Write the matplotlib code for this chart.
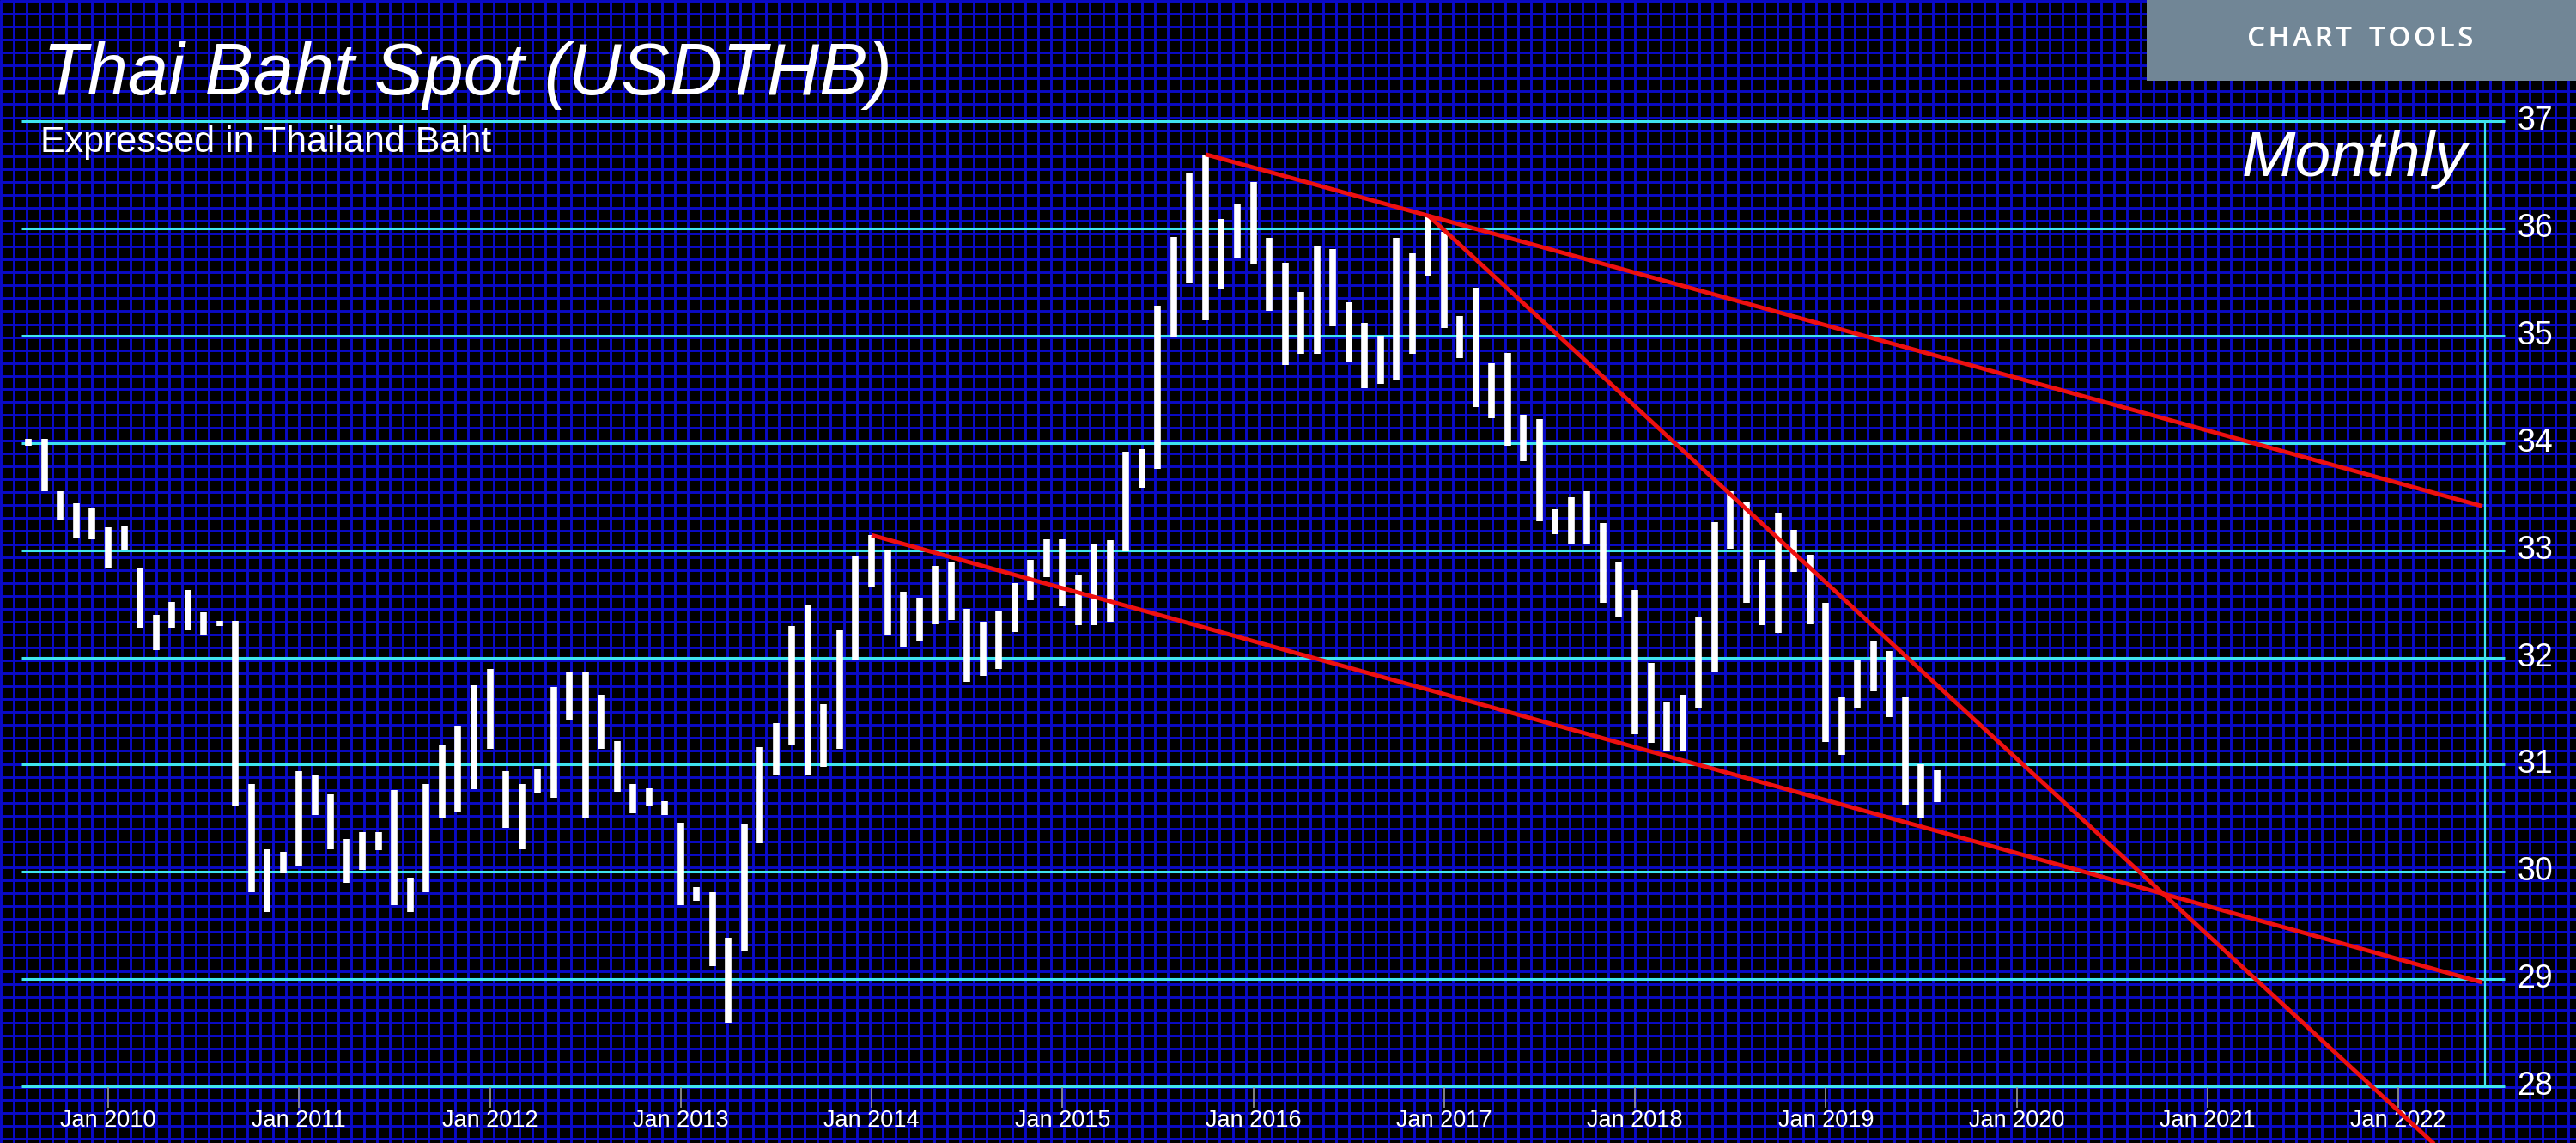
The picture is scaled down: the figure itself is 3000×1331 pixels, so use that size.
import matplotlib
matplotlib.use("Agg")
import matplotlib.pyplot as plt
import numpy as np
from matplotlib.patches import Rectangle
from matplotlib.transforms import blended_transform_factory

# monthly high / low bars, first bar = Aug 2009
first_month = 2009 + 7 / 12
highs = [34.04, 34.04, 33.55, 33.44, 33.39, 33.21, 33.23, 32.84, 32.40, 32.52,
         32.63, 32.42, 32.34, 32.34, 30.82, 30.21, 30.19, 30.94, 30.90, 30.72,
         30.31, 30.37, 30.37, 30.76, 29.95, 30.82, 31.18, 31.36, 31.74, 31.89,
         30.94, 30.82, 30.96, 31.72, 31.86, 31.86, 31.65, 31.22, 30.82, 30.78,
         30.66, 30.46, 29.86, 29.81, 29.39, 30.45, 31.16, 31.39, 32.29, 32.49,
         31.56, 32.25, 32.95, 33.14, 33.00, 32.61, 32.56, 32.85, 32.89, 32.45,
         32.33, 32.43, 32.69, 32.91, 33.10, 33.10, 32.77, 33.05, 33.09, 33.92,
         33.94, 35.28, 35.92, 36.52, 36.69, 36.09, 36.22, 36.43, 35.91, 35.68,
         35.41, 35.83, 35.81, 35.31, 35.12, 35.00, 35.91, 35.77, 36.12, 35.97,
         35.18, 35.45, 34.74, 34.84, 34.26, 34.22, 33.38, 33.49, 33.55, 33.25,
         32.89, 32.63, 31.95, 31.59, 31.65, 32.37, 33.26, 33.55, 33.45, 32.91,
         33.35, 33.19, 32.96, 32.51, 31.63, 31.98, 32.16, 32.06, 31.63, 31.00,
         30.95]
lows = [33.97, 33.55, 33.28, 33.11, 33.10, 32.83, 33.00, 32.28, 32.07, 32.28,
        32.25, 32.21, 32.29, 30.61, 29.81, 29.63, 29.99, 30.05, 30.53, 30.21,
        29.90, 30.02, 30.20, 29.69, 29.63, 29.81, 30.51, 30.56, 30.77, 31.15,
        30.41, 30.21, 30.73, 30.69, 31.41, 30.51, 31.15, 30.75, 30.55, 30.61,
        30.53, 29.69, 29.73, 29.12, 28.59, 29.26, 30.27, 30.91, 31.19, 30.91,
        30.98, 31.15, 31.98, 32.66, 32.21, 32.09, 32.16, 32.31, 32.35, 31.77,
        31.83, 31.89, 32.24, 32.53, 32.75, 32.48, 32.30, 32.30, 32.33, 32.99,
        33.58, 33.76, 34.99, 35.49, 35.14, 35.43, 35.73, 35.67, 35.23, 34.73,
        34.83, 34.83, 35.09, 34.76, 34.51, 34.55, 34.58, 34.83, 35.56, 35.07,
        34.79, 34.33, 34.23, 33.97, 33.83, 33.27, 33.15, 33.05, 33.05, 32.51,
        32.38, 31.28, 31.20, 31.12, 31.12, 31.52, 31.87, 33.01, 32.51, 32.30,
        32.23, 32.80, 32.31, 31.21, 31.09, 31.52, 31.68, 31.44, 30.63, 30.51,
        30.65]

# trend lines (year, value) pairs
trend_upper_x = [2015.75, 2022.44]
trend_upper_y = [36.69, 33.41]
trend_lower_x = [2014.0, 2022.44]
trend_lower_y = [33.14, 28.97]
trend_steep_x = [2016.917, 2022.44]
trend_steep_y = [36.12, 27.05]

y_levels = list(range(28, 38))
x_years = list(range(2010, 2023))

W, H = 3000, 1331
fig = plt.figure(figsize=(30, 13.31), dpi=100, facecolor='black')

# background blue mesh, in pixel coordinates
bg = fig.add_axes([0, 0, 1, 1])
bg.set_xlim(0, W)
bg.set_ylim(H, 0)
bg.set_facecolor('black')
bg.axis('off')
bg.vlines(np.arange(1, W, 15.1), 0, H, color='#0a0ac8', lw=2.1, zorder=0)
bg.hlines(np.arange(1, H, 15.06), 0, W, color='#0a0ac8', lw=2.1, zorder=0)

# data axes on top
ax = fig.add_axes([0, 0, 1, 1])
ax.set_xlim(2009.433, 2009.433 + W / 222.25)
ax.set_ylim(38.129 - H / 124.9, 38.129)
ax.patch.set_alpha(0)
ax.axis('off')

px_y = blended_transform_factory(bg.transData, ax.transData)
yr_px = blended_transform_factory(ax.transData, bg.transData)

# horizontal level lines and right axis
ax.hlines(y_levels, 25, 2917, transform=px_y, color='#3fe4ee', lw=2.2, zorder=2)
ax.vlines(2894, 28, 37, transform=px_y, color='#3fe4ee', lw=1.6, zorder=2)
for v in y_levels:
    ax.text(2952, v, str(v), transform=px_y, ha='center', va='center',
            color='white', fontsize=27, family='Liberation Sans')

# x ticks and labels
ax.vlines(x_years, 1266, 1290, transform=yr_px, color='#9a9a9a', lw=1.2, zorder=2)
for yr in x_years:
    ax.text(yr, 1312, f'Jan {yr}', transform=yr_px, ha='center', va='baseline',
            color='white', fontsize=19.5, family='Liberation Sans')

# monthly bars
xs = first_month + np.arange(len(highs)) / 12
ax.vlines(xs, lows, highs, color='white', lw=5.5, zorder=3, capstyle='butt')

# trend lines
for tx, ty in [(trend_upper_x, trend_upper_y), (trend_lower_x, trend_lower_y),
               (trend_steep_x, trend_steep_y)]:
    ax.plot(tx, ty, color='#ee1010', lw=3.5, zorder=4, solid_capstyle='butt')

# titles
bg.text(50, 110, 'Thai Baht Spot (USDTHB)', color='white', fontsize=61,
        style='italic', family='Liberation Sans', va='baseline', ha='left', zorder=5)
bg.text(47, 177, 'Expressed in Thailand Baht', color='white', fontsize=31,
        family='Liberation Sans', va='baseline', ha='left', zorder=5)
bg.text(2873, 205, 'Monthly', color='white', fontsize=54, style='italic',
        family='Liberation Sans', va='baseline', ha='right', zorder=5)

# chart tools button
bg.add_patch(Rectangle((2500, 0), 500, 94, facecolor='#718696', edgecolor='none', zorder=5))
bg.text(2749, 46, 'C H A R T   T O O L S'.replace('   ', '\u2009\u2009\u2009').replace(' ', '\u200a'),
        color='white', fontsize=24, fontweight='semibold',
        family=['Open Sans', 'DejaVu Sans'], ha='center', va='center', zorder=6)

fig.savefig('out.png', dpi=100, facecolor='black')
